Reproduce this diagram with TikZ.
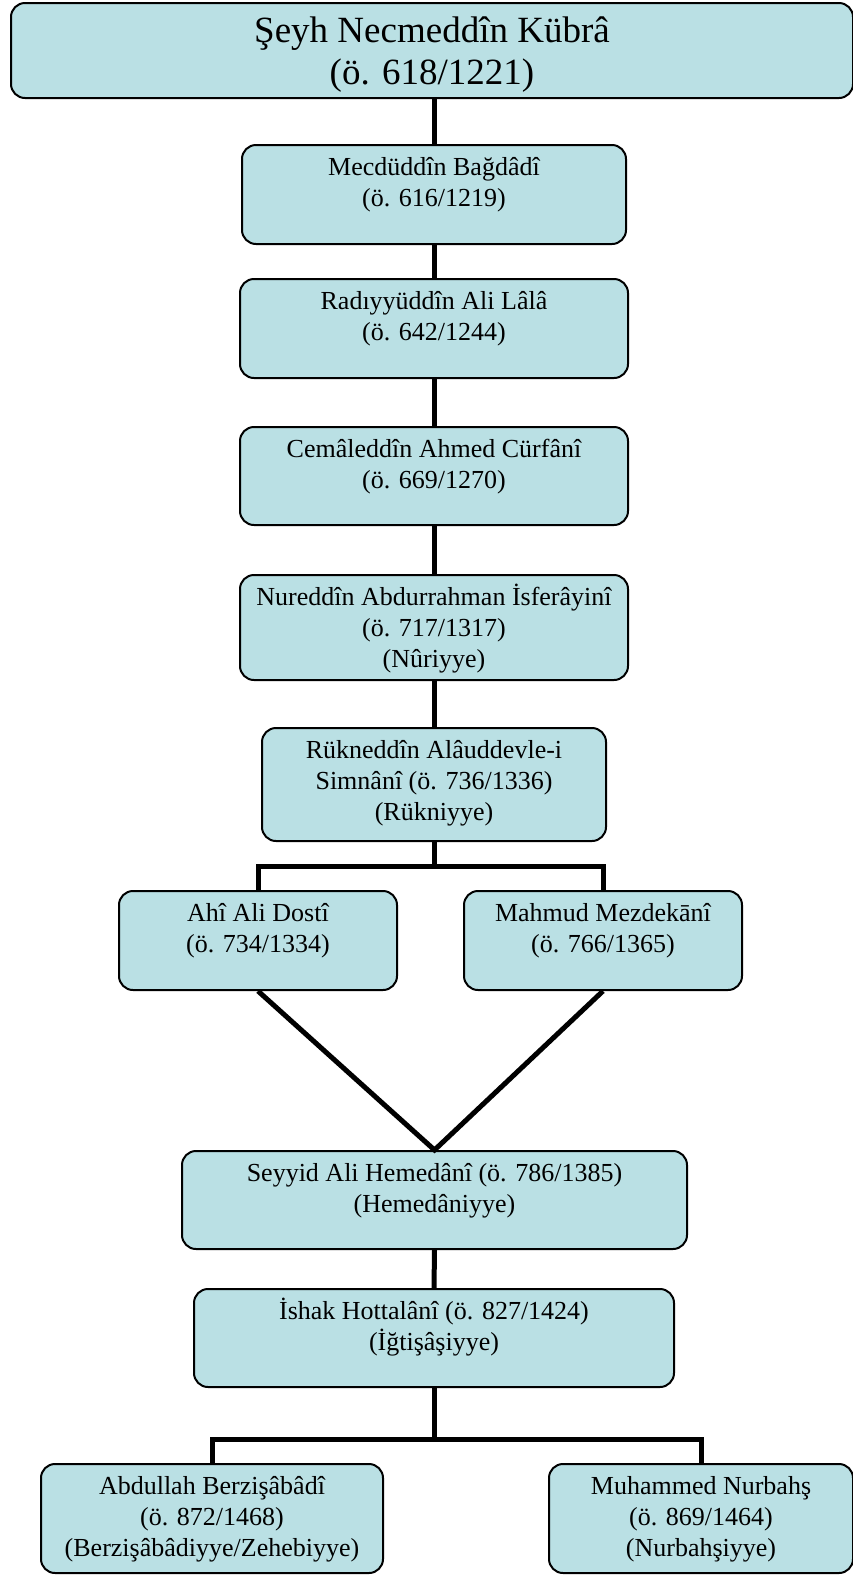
\documentclass[tikz,border=0pt]{standalone}
\usepackage{fontspec}
\setmainfont{Liberation Serif}
\definecolor{boxblue}{RGB}{186,224,228}
\newcommand{\smf}{\fontsize{26}{31}\selectfont}
\newcommand{\bigf}{\fontsize{37}{42}\selectfont}
\newcommand{\fl}{\rule{0pt}{25pt}}
\newcommand{\flb}{\rule{0pt}{34pt}}
\tikzset{
  box/.style={draw=black, line width=2pt, fill=boxblue, rounded corners=14pt, inner sep=0pt, anchor=north west},
  lbl/.style={anchor=north, inner sep=0pt, align=center, font=\smf},
  conn/.style={line width=5pt, line join=miter}
}
\begin{document}
\begin{tikzpicture}[x=1pt,y=-1pt]
\useasboundingbox (0,0) rectangle (853,1575);
% boxes
\node[box, minimum width=842pt, minimum height=95pt] (b1) at (10,2) {};
\node[box, minimum width=384pt, minimum height=99pt] (b2) at (241,144) {};
\node[box, minimum width=388pt, minimum height=99pt] (b3) at (239,278) {};
\node[box, minimum width=388pt, minimum height=98pt] (b4) at (239,426) {};
\node[box, minimum width=388pt, minimum height=105pt] (b5) at (239,574) {};
\node[box, minimum width=344pt, minimum height=113pt] (b6) at (261,727) {};
\node[box, minimum width=278pt, minimum height=99pt] (b7) at (118,890) {};
\node[box, minimum width=278pt, minimum height=99pt] (b8) at (463,890) {};
\node[box, minimum width=505pt, minimum height=98pt] (b9) at (181,1150) {};
\node[box, minimum width=480pt, minimum height=98pt] (b10) at (193,1288) {};
\node[box, minimum width=342pt, minimum height=109pt] (b11) at (40,1463) {};
\node[box, minimum width=304pt, minimum height=109pt] (b12) at (548,1463) {};
% labels
\node[lbl, font=\bigf] (t1) at ([yshift=-6pt]b1.north) {\flb Şeyh Necmeddîn Kübrâ\\(ö. 618/1221)};
\node[lbl] (t2) at ([yshift=-6pt]b2.north) {\fl Mecdüddîn Bağdâdî\\(ö. 616/1219)};
\node[lbl] (t3) at ([yshift=-6pt]b3.north) {\fl Radıyyüddîn Ali Lâlâ\\(ö. 642/1244)};
\node[lbl] (t4) at ([yshift=-6pt]b4.north) {\fl Cemâleddîn Ahmed Cürfânî\\(ö. 669/1270)};
\node[lbl] (t5) at ([yshift=-6pt]b5.north) {\fl Nureddîn Abdurrahman İsferâyinî\\(ö. 717/1317)\\(Nûriyye)};
\node[lbl] (t6) at ([yshift=-6pt]b6.north) {\fl Rükneddîn Alâuddevle-i\\Simnânî (ö. 736/1336)\\(Rükniyye)};
\node[lbl] (t7) at ([yshift=-6pt]b7.north) {\fl Ahî Ali Dostî\\(ö. 734/1334)};
\node[lbl] (t8) at ([yshift=-6pt]b8.north) {\fl Mahmud Mezdekānî\\(ö. 766/1365)};
\node[lbl] (t9) at ([yshift=-6pt]b9.north) {\fl Seyyid Ali Hemedânî (ö. 786/1385)\\(Hemedâniyye)};
\node[lbl] (t10) at ([yshift=-6pt]b10.north) {\fl İshak Hottalânî (ö. 827/1424)\\(İğtişâşiyye)};
\node[lbl] (t11) at ([yshift=-6pt]b11.north) {\fl Abdullah Berzişâbâdî\\(ö. 872/1468)\\(Berzişâbâdiyye/Zehebiyye)};
\node[lbl] (t12) at ([yshift=-6pt]b12.north) {\fl Muhammed Nurbahş\\(ö. 869/1464)\\(Nurbahşiyye)};
% branch coordinates
\coordinate (k1) at (433,866);
\coordinate (k2) at (433,1439);
% connectors
\draw[conn] (b2.north |- b1.south) -- (b2.north);
\draw[conn] (b2.south) -- (b3.north);
\draw[conn] (b3.south) -- (b4.north);
\draw[conn] (b4.south) -- (b5.north);
\draw[conn] (b5.south) -- (b6.north);
\draw[conn] (b6.south) -- (b6.south |- k1);
\draw[conn] (b7.north) -- (b7.north |- k1) -- (b8.north |- k1) -- (b8.north);
\draw[conn] (b7.south) -- (b9.north) -- (b8.south);
\draw[conn] (b9.south) -- (b10.north);
\draw[conn] (b10.south) -- (b10.south |- k2);
\draw[conn] (b11.north) -- (b11.north |- k2) -- (b12.north |- k2) -- (b12.north);
\end{tikzpicture}
\end{document}
